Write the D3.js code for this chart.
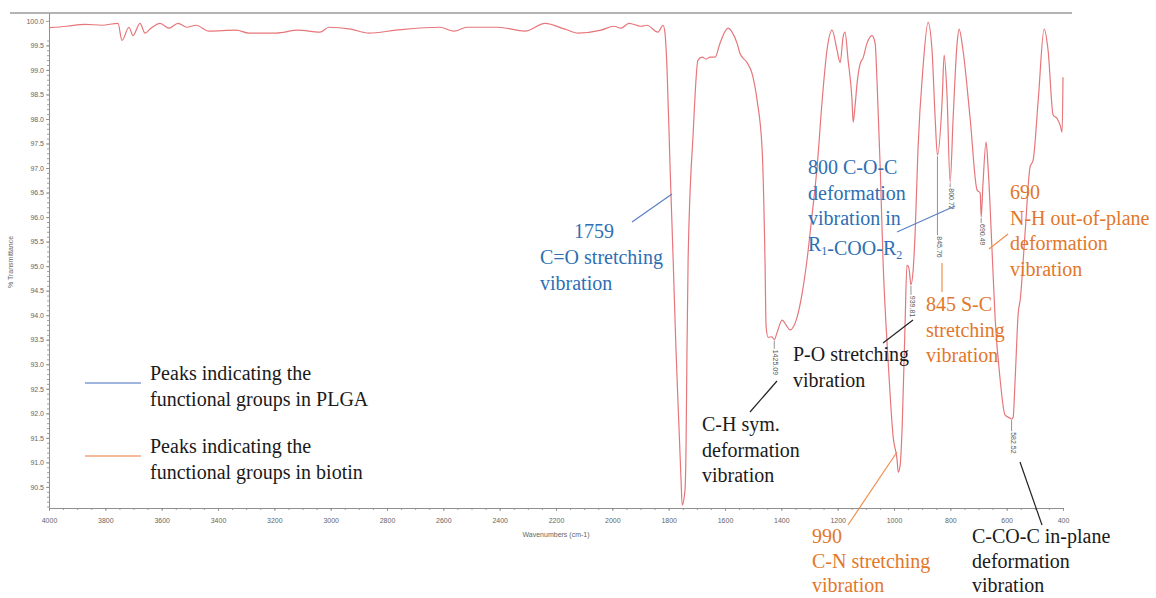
<!DOCTYPE html>
<html>
<head>
<meta charset="utf-8">
<script src="https://cdn.jsdelivr.net/npm/d3@7"></script>
<style>
body { margin: 0; background: #fff; }
</style>
</head>
<body>
<div id="chart"></div>
<script>
// FTIR spectrum: wavenumber (cm-1) and % transmittance
var wavenumbers = [4000, 3936, 3872, 3812, 3755, 3741, 3716, 3702, 3677, 3659, 3638, 3606, 3574, 3542, 3510, 3478,
    3432, 3336, 3290, 3194, 3116, 3038, 3006, 2928, 2864, 2768, 2612, 2562, 2516, 2406, 2310, 2239, 2168, 2122,
    2040, 1994, 1969, 1941, 1898, 1877, 1838, 1820, 1813, 1806, 1795, 1784, 1774, 1763, 1756, 1752, 1742, 1738,
    1735, 1731, 1713, 1696, 1681, 1667, 1653, 1635, 1618, 1589, 1575, 1557, 1547, 1522, 1504, 1486, 1468, 1458,
    1454, 1447, 1433, 1425, 1415, 1397, 1383, 1369, 1344, 1326, 1309, 1291, 1273, 1255, 1238, 1220, 1202, 1191,
    1181, 1174, 1163, 1149, 1145, 1138, 1131, 1120, 1110, 1096, 1078, 1067, 1060, 1049, 1039, 1021, 1003, 989,
    985, 978, 971, 961, 954, 947, 939.8, 932, 925, 915, 897, 879, 865, 854, 845.8, 829, 822, 812, 800.7, 790,
    776, 769, 755, 730, 705, 694, 690.5, 684, 673, 666, 652, 641, 623, 606, 588, 582.5, 577, 570, 559, 552,
    534, 517, 506, 488, 467, 453, 435, 421, 410, 403, 400];
var transmittance = [99.86, 99.89, 99.93, 99.91, 99.95, 99.60, 99.87, 99.70, 99.95, 99.75, 99.85, 99.95, 99.85, 99.95, 99.87, 99.91,
    99.79, 99.81, 99.75, 99.75, 99.81, 99.77, 99.87, 99.83, 99.75, 99.81, 99.87, 99.79, 99.87, 99.87, 99.79, 99.95, 99.83, 99.75,
    99.81, 99.89, 99.85, 99.95, 99.89, 99.91, 99.77, 99.91, 99.75, 99.05, 97.02, 95.12, 93.29, 91.66, 90.64, 90.13, 90.44, 91.46,
    93.29, 95.12, 97.71, 99.20, 99.26, 99.22, 99.26, 99.26, 99.54, 99.85, 99.77, 99.54, 99.34, 99.15, 98.93, 98.38, 97.36, 95.12,
    93.76, 93.55, 93.56, 93.50, 93.65, 93.90, 93.80, 93.70, 93.96, 94.45, 95.12, 96.04, 97.02, 98.38, 99.40, 99.81, 99.40, 99.15,
    99.66, 99.77, 99.20, 98.38, 97.93, 98.28, 98.73, 99.13, 99.24, 99.54, 99.70, 99.54, 98.73, 97.02, 95.12, 93.09, 91.52, 91.05,
    90.80, 90.95, 91.72, 93.76, 95.02, 94.96, 94.62, 94.92, 95.67, 97.36, 99.05, 99.97, 99.40, 98.03, 97.26, 98.38, 99.30, 98.52, 96.71, 98.03,
    99.54, 99.83, 99.40, 98.03, 96.55, 96.49, 96.00, 96.69, 97.53, 97.02, 95.33, 93.94, 92.68, 91.97, 91.90, 91.88, 91.92, 92.68, 94.04, 94.31,
    95.73, 97.02, 97.16, 98.38, 99.83, 99.40, 98.08, 98.01, 97.87, 97.73, 98.85];

// picked peaks (vertical grey labels)
var peakWn = [1425.09, 939.81, 845.76, 800.72, 690.49, 582.52];
var peakDrop = [9, 10, 80, 5, 6, 12];

// axis ticks
var xTicks = d3.range(4000, 399, -200);
var xMinor = d3.range(4000, 399, -50);
var yTicks = d3.range(0, 20).map(function(i) { return 90.5 + i * 0.5; });
var yMinor = d3.range(0, 96).map(function(i) { return 90.1 + i * 0.1; });

const width = 1156;
const height = 598;

const blue = '#2e6fb4';
const orange = '#e2772b';
const black = '#1a1a1a';

const svg = d3.select('#chart')
    .append('svg')
    .attr('width', width)
    .attr('height', height)
    .style('background', '#fff');

var x = d3.scaleLinear().domain([4000, 400]).range([49, 1063]);
var y = d3.scaleLinear().domain([90.07, 100.16]).range([508, 13]);

// top frame line
svg.append('line')
    .attr('x1', 10).attr('x2', 1072)
    .attr('y1', 13).attr('y2', 13)
    .attr('stroke', '#b4b4b4')
    .attr('stroke-width', 2);

// axes
function styleAxis(g) {
    g.selectAll('path, line').attr('stroke', '#8a8a8a').attr('stroke-width', 0.8);
    g.selectAll('text').attr('fill', '#666').attr('font-size', '7px')
        .attr('font-family', 'Liberation Sans, Arial, sans-serif');
}

svg.append('g')
    .attr('transform', 'translate(0,508)')
    .call(d3.axisBottom(x).tickValues(xMinor).tickSize(2).tickSizeOuter(0).tickFormat(''))
    .call(styleAxis);
svg.append('g')
    .attr('transform', 'translate(0,508)')
    .call(d3.axisBottom(x).tickValues(xTicks).tickSize(3).tickSizeOuter(0).tickPadding(7).tickFormat(d3.format('d')))
    .call(styleAxis);

svg.append('g')
    .attr('transform', 'translate(49,0)')
    .call(d3.axisLeft(y).tickValues(yMinor).tickSize(2).tickSizeOuter(0).tickFormat(''))
    .call(styleAxis);
svg.append('g')
    .attr('transform', 'translate(49,0)')
    .call(d3.axisLeft(y).tickValues(yTicks).tickSize(3).tickSizeOuter(0).tickPadding(2).tickFormat(d3.format('.1f')))
    .call(styleAxis);

svg.append('text')
    .attr('x', 556).attr('y', 537)
    .attr('text-anchor', 'middle')
    .attr('font-size', '7px')
    .attr('font-family', 'Liberation Sans, Arial, sans-serif')
    .attr('fill', '#666')
    .text('Wavenumbers (cm-1)');

svg.append('text')
    .attr('transform', 'translate(13,262) rotate(-90)')
    .attr('text-anchor', 'middle')
    .attr('font-size', '7px')
    .attr('font-family', 'Liberation Sans, Arial, sans-serif')
    .attr('fill', '#666')
    .text('% Transmittance');

// spectrum
var points = wavenumbers.map(function(d, i) { return [d, transmittance[i]]; });
var line = d3.line()
    .x(function(d) { return x(d[0]); })
    .y(function(d) { return y(d[1]); })
    .curve(d3.curveMonotoneX);

svg.append('path')
    .datum(points)
    .attr('d', line)
    .attr('fill', 'none')
    .attr('stroke', '#e6767a')
    .attr('stroke-width', 1.2);

// peak labels
function valueAt(wn) {
    var best = 0;
    wavenumbers.forEach(function(d, i) {
        if (Math.abs(d - wn) < Math.abs(wavenumbers[best] - wn)) best = i;
    });
    return transmittance[best];
}

peakWn.forEach(function(wn, i) {
    var px = x(wn), py = y(valueAt(wn));
    svg.append('line')
        .attr('x1', px).attr('x2', px)
        .attr('y1', py + 1).attr('y2', py + peakDrop[i])
        .attr('stroke', '#777').attr('stroke-width', 0.8);
    svg.append('text')
        .attr('transform', 'translate(' + (px + 1) + ',' + (py + peakDrop[i] + 1) + ') rotate(90)')
        .attr('dominant-baseline', 'middle')
        .attr('font-size', '7px')
        .attr('font-family', 'Liberation Sans, Arial, sans-serif')
        .attr('fill', '#555')
        .text(d3.format('.2f')(wn));
});

// annotations
var notes = [
    {color: blue, x: 540, y: 264, lines: ['C=O stretching', 'vibration']},
    {color: blue, x: 574, y: 238, lines: ['1759']},
    {color: blue, x: 808, y: 174, lines: ['800 C-O-C', 'deformation', 'vibration in', 'R_1-COO-R_2']},
    {color: orange, x: 1010, y: 199, lines: ['690', 'N-H out-of-plane', 'deformation', 'vibration']},
    {color: orange, x: 926, y: 311, lines: ['845 S-C', 'stretching', 'vibration']},
    {color: black, x: 793, y: 361, lines: ['P-O stretching', 'vibration']},
    {color: black, x: 702, y: 431, lines: ['C-H sym.', 'deformation', 'vibration']},
    {color: orange, x: 812, y: 543, lines: ['990', 'C-N stretching', 'vibration'], gap: 24.5},
    {color: black, x: 972, y: 543, lines: ['C-CO-C in-plane', 'deformation', 'vibration'], gap: 24.5}
];

var leaders = [
    {color: '#5b80c4', x1: 632, y1: 222, x2: 672, y2: 194},
    {color: '#5b80c4', x1: 897, y1: 232, x2: 955, y2: 206},
    {color: '#ef8f4f', x1: 989, y1: 249, x2: 1008, y2: 234},
    {color: '#ef8f4f', x1: 942, y1: 263, x2: 942, y2: 292},
    {color: '#222', x1: 883, y1: 343, x2: 913, y2: 320},
    {color: '#222', x1: 750, y1: 412, x2: 777, y2: 381},
    {color: '#ef8f4f', x1: 848, y1: 525, x2: 897, y2: 452},
    {color: '#222', x1: 1042, y1: 525, x2: 1020, y2: 462}
];

svg.selectAll('line.leader')
    .data(leaders)
    .enter()
    .append('line')
    .attr('class', 'leader')
    .attr('x1', function(d) { return d.x1; })
    .attr('y1', function(d) { return d.y1; })
    .attr('x2', function(d) { return d.x2; })
    .attr('y2', function(d) { return d.y2; })
    .attr('stroke', function(d) { return d.color; })
    .attr('stroke-width', 1.2);

function addLine(t, str) {
    str.split(/(_\d)/).forEach(function(part) {
        if (part.charAt(0) === '_') {
            t.append('tspan').attr('font-size', '12px').attr('dy', 4).text(part.slice(1));
            t.append('tspan').attr('dy', -4).text('');
        } else if (part) {
            t.append('tspan').text(part);
        }
    });
}

notes.forEach(function(n) {
    n.lines.forEach(function(str, i) {
        var t = svg.append('text')
            .attr('x', n.x)
            .attr('y', n.y + i * (n.gap || 25.5))
            .attr('font-size', '20px')
            .attr('font-family', 'Liberation Serif, Times New Roman, serif')
            .attr('fill', n.color);
        addLine(t, str);
    });
});

// legend
var legendItems = [
    {color: '#7f9dd2', y: 383, lines: ['Peaks indicating the', 'functional groups in PLGA']},
    {color: '#f2a47a', y: 456, lines: ['Peaks indicating the', 'functional groups in biotin']}
];

legendItems.forEach(function(d) {
    svg.append('line')
        .attr('x1', 85).attr('x2', 141)
        .attr('y1', d.y).attr('y2', d.y)
        .attr('stroke', d.color)
        .attr('stroke-width', 1.5);
    d.lines.forEach(function(str, i) {
        svg.append('text')
            .attr('x', 150)
            .attr('y', d.y - 3 + i * 26)
            .attr('font-size', '20px')
            .attr('font-family', 'Liberation Serif, Times New Roman, serif')
            .attr('fill', black)
            .text(str);
    });
});
</script>
</body>
</html>
